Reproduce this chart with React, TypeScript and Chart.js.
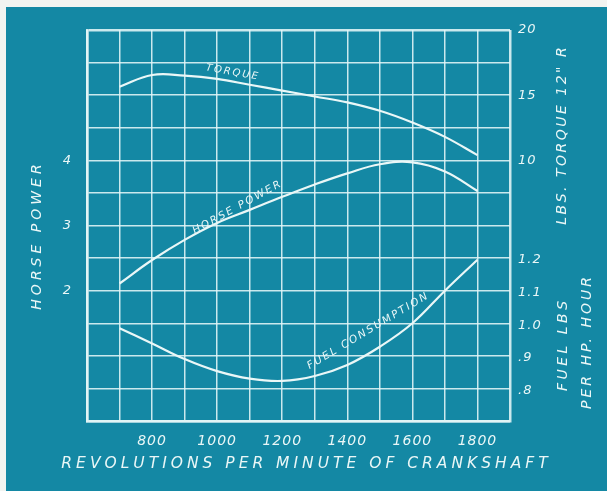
import React, { useEffect, useRef } from 'react';
import { Chart, registerables } from 'chart.js';

Chart.register(...registerables);

// ---- data ----
const RPM = [700, 800, 900, 1000, 1100, 1200, 1300, 1400, 1500, 1600, 1700, 1800];
const TORQUE = [15.65, 16.55, 16.5, 16.25, 15.8, 15.35, 14.9, 14.45, 13.8, 12.9, 11.8, 10.4];
const HORSE_POWER = [2.11, 2.47, 2.78, 3.04, 3.24, 3.44, 3.63, 3.8, 3.94, 3.97, 3.83, 3.53];
const FUEL = [0.985, 0.938, 0.89, 0.853, 0.83, 0.823, 0.838, 0.872, 0.928, 1.0, 1.1, 1.195];

const X_TICK_LABELS = [800, 1000, 1200, 1400, 1600, 1800];
const HP_TICK_LABELS = [2, 3, 4];
const TORQUE_TICK_LABELS = [10, 15, 20];
const FUEL_TICK_VALUES = [0.8, 0.9, 1.0, 1.1, 1.2];
const FUEL_TICK_TEXT = ['.8', '.9', '1.0', '1.1', '1.2'];

const X_TITLE = 'REVOLUTIONS PER MINUTE OF CRANKSHAFT';
const HP_TITLE = 'HORSE POWER';
const TORQUE_TITLE = 'LBS. TORQUE 12" R';
const FUEL_TITLE_1 = 'FUEL LBS';
const FUEL_TITLE_2 = 'PER HP. HOUR';

// curve captions, anchored in data space
const CAPTIONS = [
  { text: 'TORQUE', x: 1045, y: 16.75, axis: 'yTorque', angle: 10, size: 10 },
  { text: 'HORSE POWER', x: 1060, y: 3.27, axis: 'yHp', angle: -29, size: 10.5 },
  { text: 'FUEL CONSUMPTION', x: 1462, y: 0.975, axis: 'yFuel', angle: -31, size: 10.5 },
];

const TEAL = '#1488a4';
const INK = '#eaf7f7';
const GRID = 'rgba(228,246,247,0.88)';
const FONT = "'DejaVu Sans', sans-serif";

function drawSpaced(ctx: CanvasRenderingContext2D, text: string, x: number, y: number, angle: number, size: number, spacing: number) {
  ctx.save();
  ctx.translate(x, y);
  ctx.rotate((angle * Math.PI) / 180);
  ctx.font = `italic ${size}px ${FONT}`;
  (ctx as any).letterSpacing = `${spacing}px`;
  ctx.fillStyle = INK;
  ctx.textAlign = 'center';
  ctx.textBaseline = 'middle';
  ctx.fillText(text, spacing / 2, 0);
  ctx.restore();
}

const blueprintPlugin = {
  id: 'blueprint',
  beforeDraw(chart: any) {
    const ctx = chart.ctx as CanvasRenderingContext2D;
    ctx.save();
    ctx.fillStyle = '#f2f4f1';
    ctx.fillRect(0, 0, chart.width, chart.height);
    ctx.fillStyle = TEAL;
    ctx.fillRect(6, 7, chart.width - 6, chart.height - 7);
    ctx.restore();
    (ctx as any).letterSpacing = '1px';
  },
  afterDraw(chart: any) {
    const ctx = chart.ctx as CanvasRenderingContext2D;
    (ctx as any).letterSpacing = '0px';
    const a = chart.chartArea;
    const xs = chart.scales.x;
    // fuel tick labels on the right
    const fs = chart.scales.yFuel;
    ctx.save();
    ctx.font = `italic 13px ${FONT}`;
    (ctx as any).letterSpacing = '1px';
    ctx.fillStyle = INK;
    ctx.textAlign = 'left';
    ctx.textBaseline = 'middle';
    FUEL_TICK_VALUES.forEach((v, i) => {
      ctx.fillText(FUEL_TICK_TEXT[i], a.right + 8, fs.getPixelForValue(v) + 2);
    });
    ctx.restore();
    // captions on curves
    CAPTIONS.forEach((c) => {
      const px = xs.getPixelForValue(c.x);
      const py = chart.scales[c.axis].getPixelForValue(c.y);
      drawSpaced(ctx, c.text, px, py, c.angle, c.size, 2);
    });
    // axis titles
    drawSpaced(ctx, X_TITLE, (a.left + a.right) / 2 + 6, a.bottom + 43, 0, 15.5, 4);
    drawSpaced(ctx, HP_TITLE, a.left - 50, a.top + 207, -90, 14, 4);
    drawSpaced(ctx, TORQUE_TITLE, a.right + 52, a.top + 106, -90, 14, 2.5);
    drawSpaced(ctx, FUEL_TITLE_1, a.right + 53, a.top + 316, -90, 14, 3.5);
    drawSpaced(ctx, FUEL_TITLE_2, a.right + 77, a.top + 313, -90, 14, 3);
  },
};

export default function App() {
  const ref = useRef<HTMLCanvasElement | null>(null);

  useEffect(() => {
    document.body.style.margin = '0';
    const canvas = ref.current;
    if (!canvas) return;
    const lineDs = (label: string, data: number[], axis: string) => ({
      label,
      data: RPM.map((r, i) => ({ x: r, y: data[i] })),
      yAxisID: axis,
      borderColor: INK,
      borderWidth: 2.2,
      pointRadius: 0,
      fill: false,
      tension: 0.4,
    });
    const gridWidth = (c: any) => {
      const n = c.scale.ticks.length;
      return c.index === 0 || c.index === n - 1 ? 2.5 : 1.5;
    };
    const chart = new Chart(canvas, {
      type: 'line',
      data: {
        datasets: [
          lineDs('Torque', TORQUE, 'yTorque'),
          lineDs('Horse Power', HORSE_POWER, 'yHp'),
          lineDs('Fuel Consumption', FUEL, 'yFuel'),
        ],
      },
      options: {
        animation: false,
        responsive: false,
        devicePixelRatio: 1,
        layout: { padding: { top: 30, left: 0, right: 0, bottom: 0 } },
        plugins: { legend: { display: false }, tooltip: { enabled: false } },
        scales: {
          x: {
            type: 'linear',
            position: 'bottom',
            min: 600,
            max: 1900,
            afterFit: (s: any) => { s.height = 70; },
            ticks: {
              stepSize: 100,
              autoSkip: false,
              maxRotation: 0,
              padding: 12,
              color: INK,
              font: { family: FONT, size: 14, style: 'italic' },
              callback: (v: any) => (X_TICK_LABELS.includes(Number(v)) ? String(v) : ''),
            },
            grid: { color: GRID, lineWidth: gridWidth, drawTicks: false },
            border: { display: true, color: GRID, width: 2.5 },
          },
          yHp: {
            type: 'linear',
            position: 'left',
            min: 0,
            max: 6,
            afterFit: (s: any) => { s.width = 87; },
            ticks: {
              stepSize: 0.5,
              autoSkip: false,
              padding: 15,
              color: INK,
              font: { family: FONT, size: 13, style: 'italic' },
              callback: (v: any) => (HP_TICK_LABELS.includes(Number(v)) ? String(v) : ''),
            },
            grid: { color: GRID, lineWidth: gridWidth, drawTicks: false },
            border: { display: true, color: GRID, width: 2.5 },
          },
          yTorque: {
            type: 'linear',
            position: 'right',
            min: -10,
            max: 20,
            afterFit: (s: any) => { s.width = 97; },
            ticks: {
              stepSize: 5,
              autoSkip: false,
              padding: 8,
              color: INK,
              font: { family: FONT, size: 13, style: 'italic' },
              callback: (v: any) => (TORQUE_TICK_LABELS.includes(Number(v)) ? String(v) : ''),
            },
            grid: { display: false, drawTicks: false },
            border: { display: false },
          },
          yFuel: {
            type: 'linear',
            position: 'right',
            display: false,
            min: 0.7,
            max: 1.9,
          },
        },
      },
      plugins: [blueprintPlugin],
    } as any);
    return () => chart.destroy();
  }, []);

  return (
    <div style={{ width: 607, height: 491 }}>
      <canvas ref={ref} width={607} height={491} style={{ display: 'block' }} />
    </div>
  );
}
